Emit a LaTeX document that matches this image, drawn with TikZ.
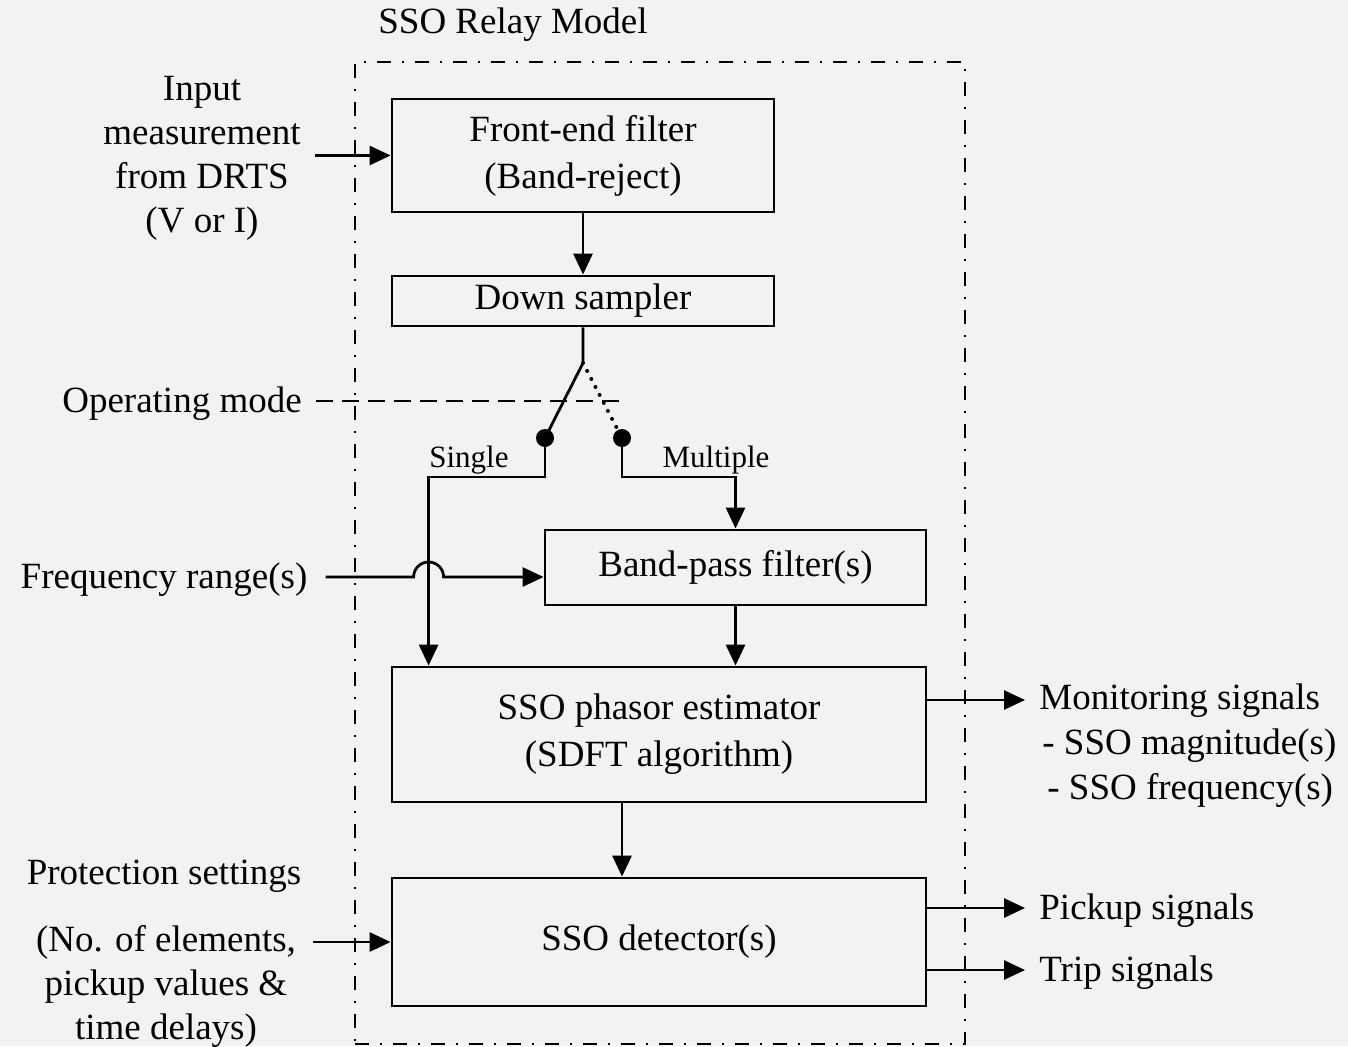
\documentclass[tikz,border=0pt]{standalone}
\usepackage{fontspec}
\setmainfont{Liberation Serif}
\usetikzlibrary{positioning}
\usetikzlibrary{calc}
\usetikzlibrary{arrows.meta}

\begin{document}
\begin{tikzpicture}[x=1pt,y=-1pt,
	line width=2.8pt,
	arr/.style={-{Triangle[length=21pt,width=19pt]}},
	blk/.style={draw,rectangle,inner sep=0pt,align=center,font=\fontsize{37}{47}\selectfont},
	lbl/.style={inner sep=0pt,inner xsep=13pt,align=center,font=\fontsize{37}{44}\selectfont},
	sml/.style={inner sep=0pt,font=\fontsize{31}{36}\selectfont},
	dot/.style={circle,fill,inner sep=0pt,minimum size=18pt}]
	\useasboundingbox[fill={rgb,255:red,242;green,242;blue,242}] (0,0) rectangle (1348,1046);
	% frame of the relay
	\node[draw,rectangle,minimum width=610pt,minimum height=982pt,
		dash pattern=on 14pt off 11pt on 2pt off 11pt] (relay) at (660,553) {};
	\node[lbl] (title) at (513,25) {SSO Relay Model};
	% blocks
	\node[blk,minimum width=382pt,minimum height=113pt] (front) at (583,155.5) {Front-end filter\\(Band-reject)};
	\node[blk,minimum width=382pt,minimum height=50pt] (down) at (583,301) {Down sampler};
	\node[blk,minimum width=381pt,minimum height=75pt] (bpf) at (735.5,567.5) {Band-pass filter(s)};
	\node[blk,minimum width=534pt,minimum height=135pt] (est) at (659,734.5) {SSO phasor estimator\\(SDFT algorithm)};
	\node[blk,minimum width=534pt,minimum height=128pt] (det) at (659,942) {SSO detector(s)};
	% inputs
	\node[lbl] (input) at (202,158) {Input\\measurement\\from DRTS\\(V or I)};
	\node[lbl] (opmode) at (182,404) {Operating mode};
	\node[lbl,inner xsep=17pt] (freq) at (164,580) {Frequency range(s)};
	\node[lbl] (protT) at (164,876) {Protection settings};
	\node[lbl,inner xsep=16pt] (prot) at (166,986) {(No. of elements,\\pickup values \&\\time delays)};
	% outputs
	\node[lbl,anchor=west] (mon) at (1025,701) {Monitoring signals};
	\node[lbl,inner xsep=0pt,anchor=west] (mag) at (1041,746) {- SSO magnitude(s)};
	\node[lbl,inner xsep=0pt,anchor=west] (frq) at (1046,790) {- SSO frequency(s)};
	\node[lbl,anchor=west] (pick) at (1025,911) {Pickup signals};
	\node[lbl,anchor=west] (trip) at (1025,973) {Trip signals};
	% switch
	\coordinate (piv) at (583,363);
	\node[dot] (dotS) at (545,438) {};
	\node[dot] (dotM) at (622,438) {};
	\node[sml] (single) at (469,460) {Single};
	\node[sml] (multi) at (716,460) {Multiple};
	\draw (down.south) -- (piv) -- (dotS.center);
	\draw[line width=4pt,dash pattern=on 0pt off 9pt,line cap=round] (piv) -- (dotM.center);
	\draw[dash pattern=on 17pt off 9pt] (opmode.east |- 0,401) -- (dotM |- 0,401);
	% connections
	\draw[arr] (input.east |- front.west) -- (front.west);
	\draw[arr] (front.south) -- (down.north);
	\draw[arr] (dotS.center) -- ++(0,39) -| ([xshift=38pt]est.north west);
	\draw[arr] (dotM.center) -- ++(0,39) -| (bpf.north);
	\draw[arr] (freq.east |- 0,577) -- ($(freq.east -| est.north west)+(23,-3)$)
		arc[start angle=180,end angle=0,radius=15pt] -- (bpf.west |- 0,577);
	\draw[arr] (bpf.south) -- (bpf.south |- est.north);
	\draw[arr] (est.south -| dotM) -- (det.north -| dotM);
	\draw[arr] (prot.east |- det.west) -- (det.west);
	\draw[arr] (est.east |- 0,700) -- (mon.west |- 0,700);
	\draw[arr] (det.east |- 0,908) -- (pick.west |- 0,908);
	\draw[arr] (det.east |- 0,970) -- (trip.west |- 0,970);
\end{tikzpicture}
\end{document}
